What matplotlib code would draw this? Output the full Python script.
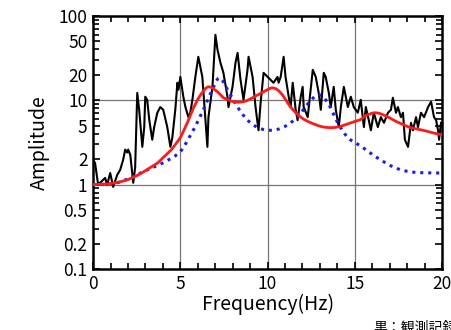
import matplotlib.pyplot as plt
import numpy as np
from matplotlib.ticker import FixedLocator, NullFormatter

# Fuente con glifos japoneses.
plt.rcParams["font.family"] = ["Noto Sans CJK JP", "DejaVu Sans"]

# Registro observado (negro).
obs_f = [0, 0.11, 0.29, 0.4, 0.69, 0.8, 0.98, 1.15, 1.38, 1.55, 1.72, 1.84, 1.95,
         2.01, 2.13, 2.3, 2.41, 2.53, 2.64, 2.82, 2.93, 2.99, 3.1, 3.22, 3.39, 3.5,
         3.68, 3.85, 4.02, 4.25, 4.43, 4.54, 4.71, 4.83, 4.89, 5.0, 5.17, 5.29, 5.46,
         5.57, 5.69, 5.86, 6.03, 6.26, 6.44, 6.55, 6.61, 6.84, 7.01, 7.13, 7.3, 7.47,
         7.7, 7.76, 7.99, 8.16, 8.28, 8.45, 8.62, 8.85, 8.91, 9.14, 9.31, 9.48, 9.6,
         9.77, 10.0, 10.17, 10.34, 10.57, 10.63, 10.75, 10.92, 11.03, 11.21, 11.32,
         11.44, 11.61, 11.72, 11.9, 12.01, 12.07, 12.3, 12.47, 12.59, 12.76, 12.93,
         13.05, 13.22, 13.33, 13.51, 13.62, 13.79, 13.91, 14.08, 14.2, 14.37, 14.6,
         14.77, 14.94, 15.17, 15.34, 15.52, 15.63, 15.8, 15.92, 16.09, 16.32, 16.49,
         16.67, 16.9, 17.07, 17.18, 17.36, 17.47, 17.64, 17.76, 17.87, 18.05, 18.22,
         18.33, 18.51, 18.62, 18.79, 18.97, 19.2, 19.37, 19.54, 19.66, 19.77, 19.83,
         19.94]
obs_a = [1.96, 1.81, 0.99, 1.05, 1.2, 0.99, 1.37, 0.94, 1.3, 1.49, 1.96, 2.6, 2.4,
         2.6, 2.25, 1.05, 1.6, 12.2, 7.7, 2.8, 4.8, 11.0, 10.1, 5.8, 3.4, 4.8,
         7.1, 8.3, 7.7, 4.8, 2.8, 3.6, 7.7, 16.1, 13.3, 18.9, 11.0, 8.3, 6.3,
         7.1, 10.1, 18.9, 32.7, 18.9, 5.8, 2.8, 6.3, 14.4, 59.6, 39.5, 27.7, 21.1,
         11.0, 8.3, 14.4, 27.7, 36.4, 17.4, 10.1, 22.9, 32.7, 18.9, 8.3, 4.4, 9.3,
         21.1, 18.9, 17.4, 16.1, 18.9, 16.1, 18.9, 32.7, 18.9, 11.0, 8.3,
         16.1, 7.7, 5.8, 11.0, 14.4, 8.3, 6.3, 13.3, 22.9, 18.9, 12.2,
         7.7, 21.1, 18.9, 12.2, 8.3, 14.4, 7.7, 4.8, 8.3, 14.4, 8.3,
         11.0, 8.3, 7.1, 10.1, 4.8, 8.3, 5.8, 4.4, 7.1, 4.8, 6.3,
         5.4, 7.1, 7.7, 10.7, 7.1, 8.3, 6.3, 7.1, 3.4, 2.8, 5.4,
         4.4, 6.3, 4.8, 7.1, 6.3, 8.3, 9.6, 6.3, 5.8, 4.4, 3.4,
         5.4]

# Modelo (rojo).
red_f = [0, 1.15, 2.3, 3.7, 4.5, 5.0, 5.4, 5.75, 6.15, 6.6, 7.13, 7.47, 8.05, 8.62,
         9.14, 9.77, 10.3, 10.75, 11.32, 11.9, 12.47, 13.22, 14.0, 14.77, 15.34,
         15.63, 16.2, 16.78, 17.36, 18.1, 18.9, 20.0]
red_a = [1.0, 1.04, 1.22, 1.8, 2.6, 3.6, 5.4, 8.1, 11.5, 14.4, 12.6, 10.7, 9.6, 9.6,
         10.7, 12.6, 14.0, 12.2, 8.3, 6.3, 5.4, 4.8, 4.8, 5.4, 5.9,
         6.6, 7.1, 6.5, 5.6, 4.8, 4.4, 3.9]

# Modelo (azul, punteado).
blue_f = [0, 1.38, 2.7, 4.02, 5.0, 5.75, 6.32, 6.84, 7.24, 7.7, 8.28, 8.85, 9.48,
          10.17, 10.92, 11.72, 12.36, 12.93, 13.45, 14.02, 14.6, 15.17, 16.09, 17.2,
          18.2, 20.0]
blue_a = [1.0, 1.05, 1.37, 1.81, 2.45, 4.4, 7.7, 13.3, 18.4, 13.3, 8.3, 5.8, 4.7,
          4.4, 4.8, 6.3, 9.3, 11.6, 9.3, 5.4, 3.6, 3.0, 2.2, 1.62,
          1.41, 1.37]

ytick_vals = [0.1, 0.2, 0.5, 1, 2, 5, 10, 20, 50, 100]
ytick_labels = ["0.1", "0.2", "0.5", "1", "2", "5", "10", "20", "50", "100"]

fig = plt.figure(figsize=(4.52, 3.30), dpi=100)
ax = fig.add_axes([0.206, 0.185, 0.772, 0.767])

# Curvas suavizadas (spline cúbica sencilla por interpolación monotona en log).
def suave(xs, ys, n=400):
    xs = np.asarray(xs, float)
    ly = np.log10(ys)
    xx = np.linspace(xs[0], xs[-1], n)
    # Catmull-Rom sobre los puntos leídos.
    out = []
    for x in xx:
        i = np.searchsorted(xs, x) - 1
        i = min(max(i, 0), len(xs) - 2)
        p0 = ly[max(i - 1, 0)]
        p1, p2 = ly[i], ly[i + 1]
        p3 = ly[min(i + 2, len(xs) - 1)]
        t = (x - xs[i]) / (xs[i + 1] - xs[i])
        out.append(0.5 * (2 * p1 + (-p0 + p2) * t
                          + (2 * p0 - 5 * p1 + 4 * p2 - p3) * t ** 2
                          + (-p0 + 3 * p1 - 3 * p2 + p3) * t ** 3))
    return xx, 10 ** np.array(out)

# Rejilla.
for gx in [5, 10, 15]:
    ax.axvline(gx, color="#777777", lw=0.9, zorder=0)
for gy in [1, 10]:
    ax.axhline(gy, color="#777777", lw=0.9, zorder=0)

ax.plot(obs_f, obs_a, color="black", lw=1.5, zorder=2)
bx, by = suave(blue_f, blue_a)
ax.plot(bx, by, color="#1a1aff", lw=2.2, linestyle=(0, (1, 1.6)), zorder=3)
rx, ry = suave(red_f, red_a)
ax.plot(rx, ry, color="#ff1a1a", lw=2.0, zorder=4)

ax.set_yscale("log")
ax.set_xlim(0, 20)
ax.set_ylim(0.1, 100)

ax.set_xticks([0, 5, 10, 15, 20])
ax.set_xticks(np.arange(0, 21, 1), minor=True)
ax.yaxis.set_major_locator(FixedLocator(ytick_vals))
ax.set_yticklabels(ytick_labels)
minor_y = [m * 10.0 ** e for e in [-1, 0, 1] for m in range(2, 10)]
ax.yaxis.set_minor_locator(FixedLocator(minor_y))
ax.yaxis.set_minor_formatter(NullFormatter())

ax.tick_params(which="both", direction="in", top=True, right=True, width=1.2)
ax.tick_params(which="major", length=5, labelsize=12.5, pad=4)
ax.tick_params(which="minor", length=4)
for s in ax.spines.values():
    s.set_linewidth(1.8)

ax.set_xlabel("Frequency(Hz)", fontsize=14, labelpad=1)
ax.set_ylabel("Amplitude", fontsize=14, labelpad=6)

# Texto recortado en la esquina inferior derecha.
fig.text(373 / 452, 1 - 321 / 330, "黒：観測記録", fontsize=10, va="top", ha="left")

fig.savefig("out.png", dpi=100)
